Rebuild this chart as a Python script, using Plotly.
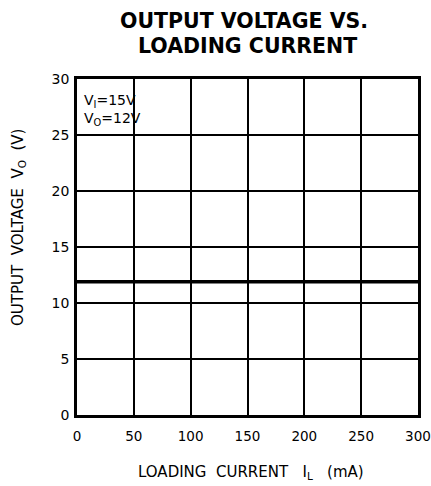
import plotly.graph_objects as go

# Data
current_ma = [0, 50, 100, 150, 200, 250, 300]
voltage_v = [11.9, 11.9, 11.9, 11.9, 11.9, 11.9, 11.9]
x_ticks = [0, 50, 100, 150, 200, 250, 300]
y_ticks = [0, 5, 10, 15, 20, 25, 30]

fig = go.Figure()
fig.add_trace(go.Scatter(x=current_ma, y=voltage_v, mode="lines",
                         line=dict(color="black", width=3.5), showlegend=False))

font_family = "DejaVu Sans"
fig.update_layout(
    width=431, height=486,
    margin=dict(l=77, r=13, t=79, b=71, autoexpand=False),
    paper_bgcolor="white", plot_bgcolor="white",
    font=dict(family=font_family, color="black"),
)
fig.update_xaxes(range=[0, 300], tickvals=x_ticks, showgrid=True, gridcolor="black",
                 gridwidth=1.6, zeroline=False, showline=True, linecolor="black",
                 linewidth=2.8, mirror=True, ticks="outside", ticklen=7, tickcolor="rgba(0,0,0,0)",
                 tickfont=dict(size=13.5), automargin=False, ticklabeloverflow="allow")
fig.update_yaxes(range=[0, 30], tickvals=y_ticks, showgrid=True, gridcolor="black",
                 gridwidth=1.6, zeroline=False, showline=True, linecolor="black",
                 linewidth=2.8, mirror=True, ticks="outside", ticklen=2, tickcolor="rgba(0,0,0,0)",
                 tickfont=dict(size=14), automargin=False, ticklabeloverflow="allow")

# Title as two annotation lines
fig.add_annotation(text="<b>OUTPUT VOLTAGE VS.</b>", xref="paper", yref="paper",
                   x=0.5, xshift=-4, y=1.0, yshift=58, xanchor="center", yanchor="middle",
                   showarrow=False, font=dict(family=font_family, size=20.5, color="black"))
fig.add_annotation(text="<b>LOADING CURRENT</b>", xref="paper", yref="paper",
                   x=0.5, y=1.0, yshift=33, xanchor="center", yanchor="middle", showarrow=False,
                   font=dict(family=font_family, size=20.5, color="black"))

# Axis titles
fig.add_annotation(text="LOADING  CURRENT   I<sub>L</sub>   (mA)", xref="paper", yref="paper",
                   x=0.51, y=0.0, yshift=-57, xanchor="center", yanchor="middle", showarrow=False,
                   font=dict(family=font_family, size=15, color="black"))
fig.add_annotation(text="OUTPUT  VOLTAGE  V<sub>O</sub>  (V)", xref="paper", yref="paper",
                   x=0.0, xshift=-59, y=0.5565, xanchor="center", yanchor="middle",
                   textangle=-90, showarrow=False,
                   font=dict(family=font_family, size=15, color="black"))

fig.add_annotation(text="V<sub>I</sub>=15V<br>V<sub>O</sub>=12V", xref="paper", yref="paper",
                   x=0.014, y=0.967, xanchor="left", yanchor="top", showarrow=False,
                   align="left", font=dict(family=font_family, size=14, color="black"))

# remove the page's default body margin and scrollbars so the figure fills the window exactly
fig.write_html(
    "out.html",
    config={"displayModeBar": False},
    post_script="document.body.style.margin='0';document.documentElement.style.overflow='hidden';document.body.style.overflow='hidden';",
)
